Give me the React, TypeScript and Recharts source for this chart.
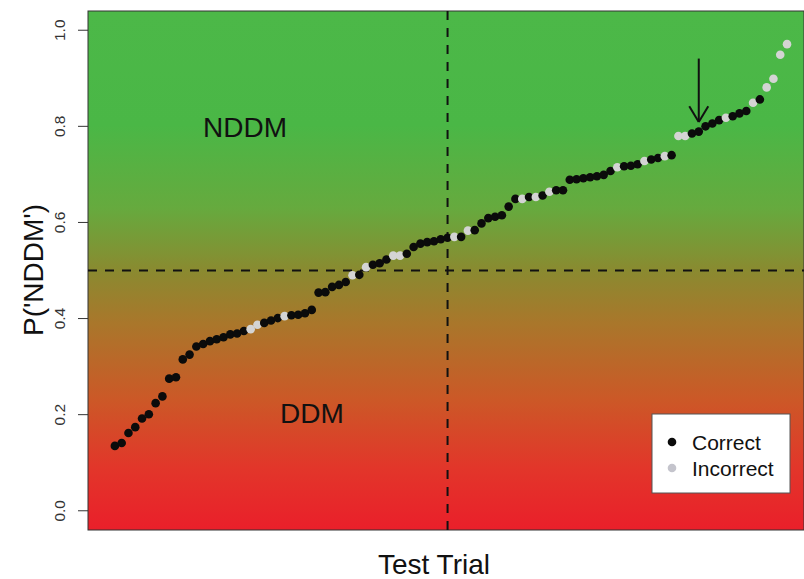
import React from 'react';
import { ScatterChart, Scatter, XAxis, YAxis, ReferenceLine, ReferenceArea } from 'recharts';

// P('NDDM') for each test trial, sorted (trial 1..100)
const pNDDM = [
  0.135, 0.141, 0.162, 0.174, 0.192, 0.201, 0.224, 0.238, 0.275, 0.278,
  0.315, 0.325, 0.342, 0.347, 0.353, 0.357, 0.361, 0.367, 0.369, 0.374,
  0.378, 0.387, 0.391, 0.396, 0.401, 0.405, 0.407, 0.408, 0.411, 0.418,
  0.454, 0.455, 0.466, 0.470, 0.476, 0.490, 0.491, 0.507, 0.512, 0.515,
  0.523, 0.531, 0.531, 0.535, 0.549, 0.556, 0.559, 0.561, 0.565, 0.568,
  0.570, 0.570, 0.583, 0.584, 0.598, 0.609, 0.612, 0.615, 0.633, 0.649,
  0.649, 0.653, 0.653, 0.656, 0.664, 0.667, 0.667, 0.689, 0.690, 0.692,
  0.694, 0.696, 0.699, 0.707, 0.715, 0.717, 0.718, 0.721, 0.728, 0.731,
  0.734, 0.738, 0.740, 0.780, 0.780, 0.785, 0.789, 0.800, 0.806, 0.813,
  0.818, 0.821, 0.827, 0.832, 0.849, 0.856, 0.881, 0.899, 0.949, 0.971,
];

// Trials answered incorrectly
const incorrectTrials = [21, 22, 26, 36, 38, 42, 43, 51, 53, 61, 63, 65, 75, 79, 82, 84, 85, 91, 95, 97, 98, 99, 100];

const yTicks = [0, 0.2, 0.4, 0.6, 0.8, 1.0];
const legendLabels = ['Correct', 'Incorrect'];
const xDomain: [number, number] = [-2.96, 102.5];
const yDomain: [number, number] = [-0.04, 1.04];
const dividerTrial = 50;
const dividerP = 0.5;
const arrowTrial = 87;
const arrowTop = 0.941;
const arrowTip = 0.809;
const arrowHeadBase = 0.842;
const arrowHeadHalf = 1.4;

const data = pNDDM.map((p, i) => ({ trial: i + 1, p, correct: !incorrectTrials.includes(i + 1) }));

const FONT = '"Liberation Sans", Arial, Helvetica, sans-serif';
const CORRECT = '#0b0b0b';
const INCORRECT = '#d4d4d4';

const Dot = (props: any) => {
  const { cx, cy, payload } = props;
  if (cx == null || cy == null) return null;
  return <circle cx={cx} cy={cy} r={4.3} fill={payload.correct ? CORRECT : INCORRECT} />;
};

const YTick = (props: any) => {
  const { x, y, payload } = props;
  const cx = x - 16;
  return (
    <text
      x={cx}
      y={y}
      transform={`rotate(-90, ${cx}, ${y})`}
      textAnchor="middle"
      dominantBaseline="central"
      fontSize={15.5}
      fontFamily={FONT}
      fill="#333"
    >
      {Number(payload.value).toFixed(1)}
    </text>
  );
};

const BgShape = (props: any) => {
  const { x, y, width, height } = props;
  return (
    <g>
      <defs>
        <linearGradient id="bgGrad" x1="0" y1="0" x2="0" y2="1">
          <stop offset="0" stopColor="#4cb848" />
          <stop offset="0.22" stopColor="#4ab746" />
          <stop offset="0.38" stopColor="#66aa3e" />
          <stop offset="0.5" stopColor="#8a8a30" />
          <stop offset="0.6" stopColor="#a9772b" />
          <stop offset="0.75" stopColor="#cc5827" />
          <stop offset="0.88" stopColor="#e2362a" />
          <stop offset="1" stopColor="#ea1f2a" />
        </linearGradient>
      </defs>
      <rect x={x} y={y} width={width} height={height} fill="url(#bgGrad)" stroke="#333" strokeWidth={1} />
    </g>
  );
};

export default function App() {
  return (
    <div style={{ position: 'absolute', left: 0, top: 0, width: 804, height: 579, overflow: 'hidden', background: '#fff' }}>
      <ScatterChart width={804} height={579} margin={{ top: 11, right: 0, bottom: 49, left: 0 }}>
        <XAxis type="number" dataKey="trial" domain={xDomain} hide allowDataOverflow />
        <YAxis
          type="number"
          dataKey="p"
          domain={yDomain}
          ticks={yTicks}
          interval={0}
          width={88}
          tickSize={10}
          axisLine={false}
          tickLine={{ stroke: '#333' }}
          tick={<YTick />}
          allowDataOverflow
        />
        <ReferenceArea x1={xDomain[0]} x2={xDomain[1]} y1={yDomain[0]} y2={yDomain[1]} shape={BgShape} />
        <ReferenceLine x={dividerTrial} stroke="#111" strokeWidth={2} strokeDasharray="9 8" />
        <ReferenceLine y={dividerP} stroke="#111" strokeWidth={2} strokeDasharray="9 8" />
        <ReferenceLine segment={[{ x: arrowTrial, y: arrowTop }, { x: arrowTrial, y: arrowTip }]} stroke="#111" strokeWidth={2} />
        <ReferenceLine segment={[{ x: arrowTrial - arrowHeadHalf, y: arrowHeadBase }, { x: arrowTrial, y: arrowTip }]} stroke="#111" strokeWidth={2} />
        <ReferenceLine segment={[{ x: arrowTrial + arrowHeadHalf, y: arrowHeadBase }, { x: arrowTrial, y: arrowTip }]} stroke="#111" strokeWidth={2} />
        <Scatter data={data} dataKey="p" isAnimationActive={false} shape={Dot} />
      </ScatterChart>
      <svg width={804} height={579} style={{ position: 'absolute', left: 0, top: 0, pointerEvents: 'none' }}>
        <text x={245} y={127} textAnchor="middle" dominantBaseline="central" fontSize={28} fontFamily={FONT} fill="#111">NDDM</text>
        <text x={312} y={413} textAnchor="middle" dominantBaseline="central" fontSize={28} fontFamily={FONT} fill="#111">DDM</text>
        <text x={434} y={574} textAnchor="middle" fontSize={28} fontFamily={FONT} fill="#111">Test Trial</text>
        <text x={33} y={270} transform="rotate(-90, 33, 270)" textAnchor="middle" dominantBaseline="central" fontSize={28} fontFamily={FONT} fill="#111">P('NDDM')</text>
        <rect x={652} y={414} width={138} height={79} fill="#fff" stroke="#555" strokeWidth={1} />
        <circle cx={672} cy={442} r={4.3} fill={CORRECT} />
        <circle cx={672} cy={468} r={4.3} fill="#c4c4cc" />
        <text x={692} y={442} dominantBaseline="central" fontSize={21} fontFamily={FONT} fill="#111">{legendLabels[0]}</text>
        <text x={692} y={468} dominantBaseline="central" fontSize={21} fontFamily={FONT} fill="#111">{legendLabels[1]}</text>
      </svg>
    </div>
  );
}
